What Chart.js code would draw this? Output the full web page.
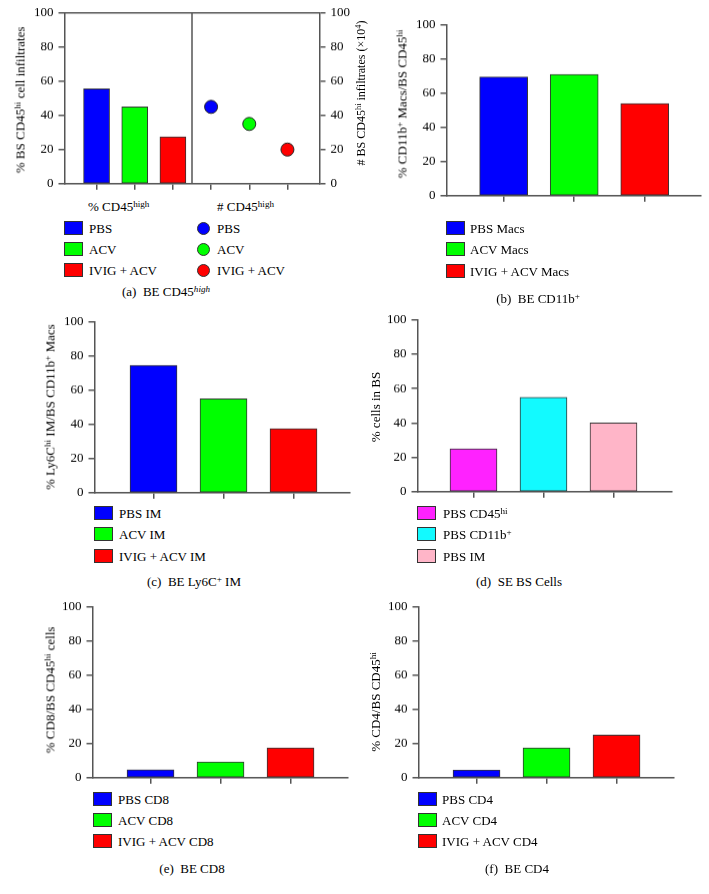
<!DOCTYPE html>
<html><head><meta charset="utf-8">
<script src="https://cdn.jsdelivr.net/npm/chart.js@4.4.1/dist/chart.umd.min.js"></script>
<style>
html,body{margin:0;padding:0;background:#fff;}
#root{position:relative;width:709px;height:894px;overflow:hidden;font-family:"Liberation Serif","DejaVu Serif",serif;color:#000;}
.wrap{position:absolute;}
.wrap canvas{display:block;}
.t{position:absolute;white-space:nowrap;font-size:13px;line-height:1;}
.rot{transform:translate(-50%,-50%) rotate(-90deg);}
.ctr{transform:translate(-50%,-50%);}
.lft{transform:translate(0,-50%);}
sup{font-size:70%;vertical-align:0;position:relative;top:-0.45em;line-height:0;}
.sw{position:absolute;width:19px;height:14px;box-sizing:border-box;border:1px solid #333;}
.dot{position:absolute;width:13px;height:13px;border-radius:50%;box-sizing:border-box;border:1px solid #333;}
</style></head>
<body><div id="root"></div>
<script>
// ---------------- data ----------------
const panelA_labels = ['PBS', 'ACV', 'IVIG + ACV'];
const panelA_percent = [55.5, 45, 27.5];
const panelA_count = [45, 35, 20];
const panelB_labels = ['PBS Macs', 'ACV Macs', 'IVIG + ACV Macs'];
const panelB_values = [69.5, 71, 54];
const panelC_labels = ['PBS IM', 'ACV IM', 'IVIG + ACV IM'];
const panelC_values = [74.5, 55, 37.5];
const panelD_labels = ['PBS CD45<sup>hi</sup>', 'PBS CD11b<sup>+</sup>', 'PBS IM'];
const panelD_values = [25, 55, 40];
const panelE_labels = ['PBS CD8', 'ACV CD8', 'IVIG + ACV CD8'];
const panelE_values = [4.7, 9.2, 17.5];
const panelF_labels = ['PBS CD4', 'ACV CD4', 'IVIG + ACV CD4'];
const panelF_values = [4.5, 17.5, 25];
const yTickValues = [0, 20, 40, 60, 80, 100];

// ---------------- style ----------------
const treatColors = ['#0000ff', '#00ff00', '#ff0000'];
const seColors = ['#ff22ff', '#12faff', '#ffb5c8'];
const axisColor = '#555';
const FONT = 'Liberation Serif';
Chart.defaults.font.family = FONT;
Chart.defaults.color = '#000';

const root = document.getElementById('root');

function el(cls, html, x, y, extra) {
  const d = document.createElement('div');
  d.className = cls;
  d.innerHTML = html;
  d.style.left = x + 'px';
  d.style.top = y + 'px';
  if (extra) Object.assign(d.style, extra);
  root.appendChild(d);
  return d;
}

function yScale(position) {
  return {
    type: 'linear', position, min: 0, max: 100,
    afterBuildTicks: s => { s.ticks = yTickValues.map(v => ({ value: v })); },
    ticks: { color: '#000', font: { family: FONT, size: 13 }, padding: 5 },
    grid: { drawOnChartArea: false, drawTicks: true, tickLength: 6, color: axisColor, lineWidth: 1.5 },
    border: { color: axisColor, width: 1.5 }
  };
}
function xScale(min, max, count) {
  return {
    type: 'linear', min, max, offset: false,
    afterBuildTicks: s => { s.ticks = Array.from({ length: count }, (_, i) => ({ value: i + 1 })); },
    ticks: { callback: () => '', font: { size: 4 }, padding: 0, autoSkip: false, maxRotation: 0 },
    grid: { offset: false, drawOnChartArea: false, drawTicks: true, tickLength: 6, color: axisColor, lineWidth: 1.5 },
    border: { color: axisColor, width: 1.5 }
  };
}

function barDataset(values, colors, thickness) {
  return {
    type: 'bar',
    data: values.map((v, i) => ({ x: i + 1, y: v })),
    backgroundColor: colors,
    borderColor: '#333',
    borderWidth: 1,
    borderSkipped: false,
    barThickness: thickness
  };
}

function makePanel(target, cfg) {
  const wrap = document.createElement('div');
  wrap.className = 'wrap';
  const cv = document.createElement('canvas');
  let w = target.r - target.l + 90, h = target.b - target.t + 40;
  cv.width = w; cv.height = h;
  cv.style.width = w + 'px'; cv.style.height = h + 'px';
  wrap.appendChild(cv);
  root.appendChild(wrap);
  cfg.options = Object.assign({
    responsive: false, maintainAspectRatio: false, animation: false, devicePixelRatio: 1, events: [],
    layout: { padding: { top: 10, right: 6, bottom: 2, left: 2 } }
  }, cfg.options);
  cfg.options.plugins = Object.assign({ legend: { display: false }, tooltip: { enabled: false } }, cfg.options.plugins || {});
  const chart = new Chart(cv, cfg);
  for (let k = 0; k < 5; k++) {
    const ca = chart.chartArea;
    const dw = (target.r - target.l) - (ca.right - ca.left);
    const dh = (target.b - target.t) - (ca.bottom - ca.top);
    if (Math.abs(dw) < 0.05 && Math.abs(dh) < 0.05) break;
    w += dw; h += dh;
    chart.resize(w, h);
  }
  const ca = chart.chartArea;
  wrap.style.left = (target.l - ca.left) + 'px';
  wrap.style.top = (target.t - ca.top) + 'px';
  return chart;
}

function legendSquares(labels, colors, sx, tx, ys) {
  labels.forEach((lab, i) => {
    el('sw', '', sx, ys[i] - 7, { background: colors[i] });
    el('t lft', lab, tx, ys[i]);
  });
}

// ---------------- panel (a) ----------------
const frameA = {
  id: 'frameA',
  afterDraw(chart) {
    const { ctx, chartArea: ca, scales } = chart;
    const dx = scales.x.getPixelForValue(panelA_percent.length + 0.5);
    ctx.save();
    ctx.strokeStyle = axisColor; ctx.lineWidth = 1.5;
    ctx.beginPath();
    ctx.moveTo(ca.left, ca.top); ctx.lineTo(ca.right, ca.top);
    ctx.moveTo(dx, ca.top); ctx.lineTo(dx, ca.bottom);
    ctx.stroke();
    ctx.restore();
  }
};
makePanel({ l: 64, t: 13, r: 319, b: 183 }, {
  type: 'bar',
  data: {
    datasets: [
      barDataset(panelA_percent, treatColors, 26),
      {
        type: 'scatter', yAxisID: 'y2', showLine: false,
        data: panelA_count.map((v, i) => ({ x: panelA_percent.length + i + 1, y: v })),
        pointRadius: 6.5, pointBackgroundColor: treatColors, pointBorderColor: '#222', pointBorderWidth: 1
      }
    ]
  },
  options: {
    scales: { x: xScale(0.16, 6.84, panelA_percent.length + panelA_count.length), y: yScale('left'), y2: yScale('right') }
  },
  plugins: [frameA]
});
el('t rot', '% BS CD45<sup>hi</sup> cell infiltrates', 20, 100);
el('t rot', '# BS CD45<sup>hi</sup> infiltrates (×10<sup>4</sup>)', 361, 93, { fontSize: '12px' });
el('t lft', '% CD45<sup>high</sup>', 88, 206);
el('t lft', '# CD45<sup>high</sup>', 217, 206);
legendSquares(panelA_labels, treatColors, 64, 89, [228, 249, 270]);
panelA_labels.forEach((lab, i) => {
  const ys = [228, 249, 270];
  el('dot', '', 197, ys[i] - 6.5, { background: treatColors[i] });
  el('t lft', lab, 217, ys[i]);
});
el('t ctr', '(a)&nbsp; BE CD45<sup><i>high</i></sup>', 166, 291);

// ---------------- panel (b) ----------------
makePanel({ l: 446, t: 25, r: 700, b: 195 }, {
  type: 'bar',
  data: { datasets: [barDataset(panelB_values, treatColors, 48)] },
  options: { scales: { x: xScale(0.19, 3.79, panelB_values.length), y: yScale('left') } }
});
el('t rot', '% CD11b<sup>+</sup> Macs/BS CD45<sup>hi</sup>', 402, 104);
legendSquares(panelB_labels, treatColors, 446, 470, [228, 249, 271]);
el('t ctr', '(b)&nbsp; BE CD11b<sup>+</sup>', 538, 298);

// ---------------- panel (c) ----------------
makePanel({ l: 94, t: 322, r: 349, b: 492 }, {
  type: 'bar',
  data: { datasets: [barDataset(panelC_values, treatColors, 47)] },
  options: { scales: { x: xScale(0.157, 3.8, panelC_values.length), y: yScale('left') } }
});
el('t rot', '% Ly6C<sup>hi</sup> IM/BS CD11b<sup>+</sup> Macs', 50, 407);
legendSquares(panelC_labels, treatColors, 94, 119, [513, 534, 556]);
el('t ctr', '(c)&nbsp; BE Ly6C<sup>+</sup> IM', 194, 581);

// ---------------- panel (d) ----------------
makePanel({ l: 417, t: 320, r: 671, b: 491 }, {
  type: 'bar',
  data: { datasets: [barDataset(panelD_values, seColors, 47)] },
  options: { scales: { x: xScale(0.2, 3.829, panelD_values.length), y: yScale('left') } }
});
el('t rot', '% cells in BS', 375, 407);
legendSquares(panelD_labels, seColors, 417, 443, [513, 534, 556]);
el('t ctr', '(d)&nbsp; SE BS Cells', 519, 581);

// ---------------- panel (e) ----------------
makePanel({ l: 92, t: 607, r: 347, b: 777 }, {
  type: 'bar',
  data: { datasets: [barDataset(panelE_values, treatColors, 47)] },
  options: { scales: { x: xScale(0.171, 3.814, panelE_values.length), y: yScale('left') } }
});
el('t rot', '% CD8/BS CD45<sup>hi</sup> cells', 50, 690);
legendSquares(panelE_labels, treatColors, 93, 118, [799, 820, 841]);
el('t ctr', '(e)&nbsp; BE CD8', 192, 868);

// ---------------- panel (f) ----------------
makePanel({ l: 418, t: 607, r: 673, b: 777 }, {
  type: 'bar',
  data: { datasets: [barDataset(panelF_values, treatColors, 47)] },
  options: { scales: { x: xScale(0.171, 3.814, panelF_values.length), y: yScale('left') } }
});
el('t rot', '% CD4/BS CD45<sup>hi</sup>', 375, 702);
legendSquares(panelF_labels, treatColors, 418, 442, [799, 820, 841]);
el('t ctr', '(f)&nbsp; BE CD4', 517, 868);
</script>
</body></html>
